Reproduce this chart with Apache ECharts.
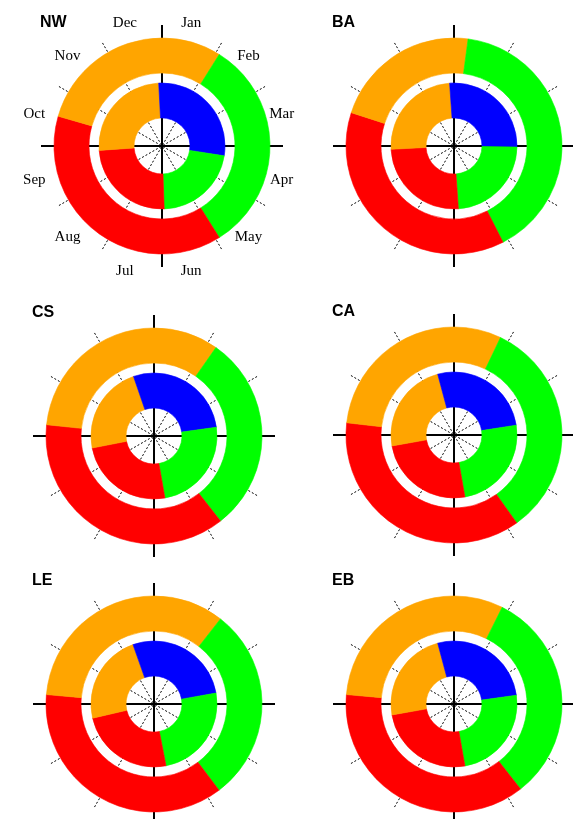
<!DOCTYPE html>
<html>
<head>
<meta charset="utf-8">
<script src="https://cdn.jsdelivr.net/npm/echarts@6/dist/echarts.min.js"></script>
<style>
  html, body { margin: 0; padding: 0; background: #fff; }
  #main { width: 573px; height: 819px; }
</style>
</head>
<body>
<div id="main"></div>
<script>
// months around the dial (Jan starts at 12 o'clock, clockwise)
const months = ['Jan', 'Feb', 'Mar', 'Apr', 'May', 'Jun', 'Jul', 'Aug', 'Sep', 'Oct', 'Nov', 'Dec'];
const sites = ['NW', 'BA', 'CS', 'CA', 'LE', 'EB'];

// outer ring: angle (deg, from Jan 1) where each colour starts
const outerGreen  = [32, 7.5, 35, 25.5, 38, 26.5];
const outerRed    = [148, 153, 142, 144.5, 143, 142];
const outerOrange = [286, 288, 276, 276.5, 275, 275];

// inner ring: angle (deg) where each colour starts
const innerGreen  = [99, 91, 82, 81, 80, 82];
const innerRed    = [178, 176, 170, 170, 169, 170];
const innerOrange = [266, 267, 259, 260, 257, 260];
const innerBlue   = [357, 356, 341, 345, 340.5, 345];

// layout of the 6 dials
const centers = [[162, 146], [454, 146], [154, 436], [454, 435], [154, 704], [454, 704]];

const COL = { orange: '#ffa500', green: '#00ff00', red: '#ff0000', blue: '#0000ff' };

// turn start angles into stacked pieces starting at 0
function ringSegments(bounds, colors) {
  let segs = [{ len: bounds[0], color: colors[colors.length - 1] }];
  for (let k = 0; k < bounds.length; k++) {
    let end = k + 1 < bounds.length ? bounds[k + 1] : 360;
    segs.push({ len: end - bounds[k], color: colors[k] });
  }
  return segs;
}

let polar = [], angleAxis = [], radiusAxis = [], series = [], title = [];

sites.forEach(function (site, i) {
  let c = centers[i];
  let base = i * 3;

  title.push({
    text: site, left: c[0] - 122, top: c[1] - 131, padding: 0,
    textStyle: { fontFamily: 'Liberation Sans', fontWeight: 'bold', fontSize: 16, color: '#000' }
  });

  // dotted month lines
  polar.push({ center: c, radius: [0, 119] });
  angleAxis.push({
    polarIndex: base, type: 'category', data: months, startAngle: 90, boundaryGap: true, z: 0,
    axisLine: { show: false }, axisTick: { show: false }, axisLabel: { show: false },
    splitLine: { show: true, lineStyle: { color: '#000', width: 1, type: [2, 2] } }
  });
  radiusAxis.push({ polarIndex: base, show: false });

  // black cross
  polar.push({ center: c, radius: [0, 121] });
  angleAxis.push({
    polarIndex: base + 1, type: 'value', min: 0, max: 360, interval: 90, startAngle: 90, z: 1,
    axisLine: { show: false }, axisTick: { show: false }, axisLabel: { show: false },
    splitLine: { show: true, lineStyle: { color: '#000', width: 2 } }
  });
  radiusAxis.push({ polarIndex: base + 1, show: false });

  // the two rings
  polar.push({ center: c, radius: [23, 113] });
  angleAxis.push({ polarIndex: base + 2, type: 'value', min: 0, max: 360, startAngle: 90, show: false });
  radiusAxis.push({ polarIndex: base + 2, type: 'category', data: ['inner', 'outer'], show: false });

  let inner = ringSegments([innerGreen[i], innerRed[i], innerOrange[i], innerBlue[i]],
                           [COL.green, COL.red, COL.orange, COL.blue]);
  let outer = ringSegments([outerGreen[i], outerRed[i], outerOrange[i]],
                           [COL.green, COL.red, COL.orange]);
  let n = Math.max(inner.length, outer.length);
  for (let k = 0; k < n; k++) {
    let a = inner[k] || { len: 0, color: COL.orange };
    let b = outer[k] || { len: 0, color: COL.orange };
    series.push({
      type: 'bar', coordinateSystem: 'polar', polarIndex: base + 2,
      stack: 'ring' + i, barWidth: 35, silent: true,
      data: [
        { value: a.len, itemStyle: { color: a.color, borderColor: a.color, borderWidth: 0.6 } },
        { value: b.len, itemStyle: { color: b.color, borderColor: b.color, borderWidth: 0.6 } }
      ]
    });
  }
});

// month names round the first dial only (centred text)
let lp = polar.length;
polar.push({ center: [158, 147], radius: [0, 128] });
angleAxis.push({ polarIndex: lp, type: 'category', data: months, startAngle: 90, boundaryGap: true, show: false });
radiusAxis.push({ polarIndex: lp, type: 'value', min: 0, max: 1, show: false });
series.push({
  type: 'scatter', coordinateSystem: 'polar', polarIndex: lp, silent: true,
  symbolSize: 1, itemStyle: { color: 'rgba(0,0,0,0)' },
  data: months.map(function (m) { return [1, m]; }),
  label: {
    show: true, position: 'inside', align: 'center', verticalAlign: 'middle',
    formatter: function (p) { return p.value[1]; },
    fontFamily: 'Liberation Serif', fontSize: 15, color: '#000',
    textBorderWidth: 0, opacity: 1
  }
});

let myChart = echarts.init(document.getElementById('main'));
myChart.setOption({
  animation: false,
  backgroundColor: '#fff',
  title: title,
  polar: polar,
  angleAxis: angleAxis,
  radiusAxis: radiusAxis,
  series: series
});
</script>
</body>
</html>
